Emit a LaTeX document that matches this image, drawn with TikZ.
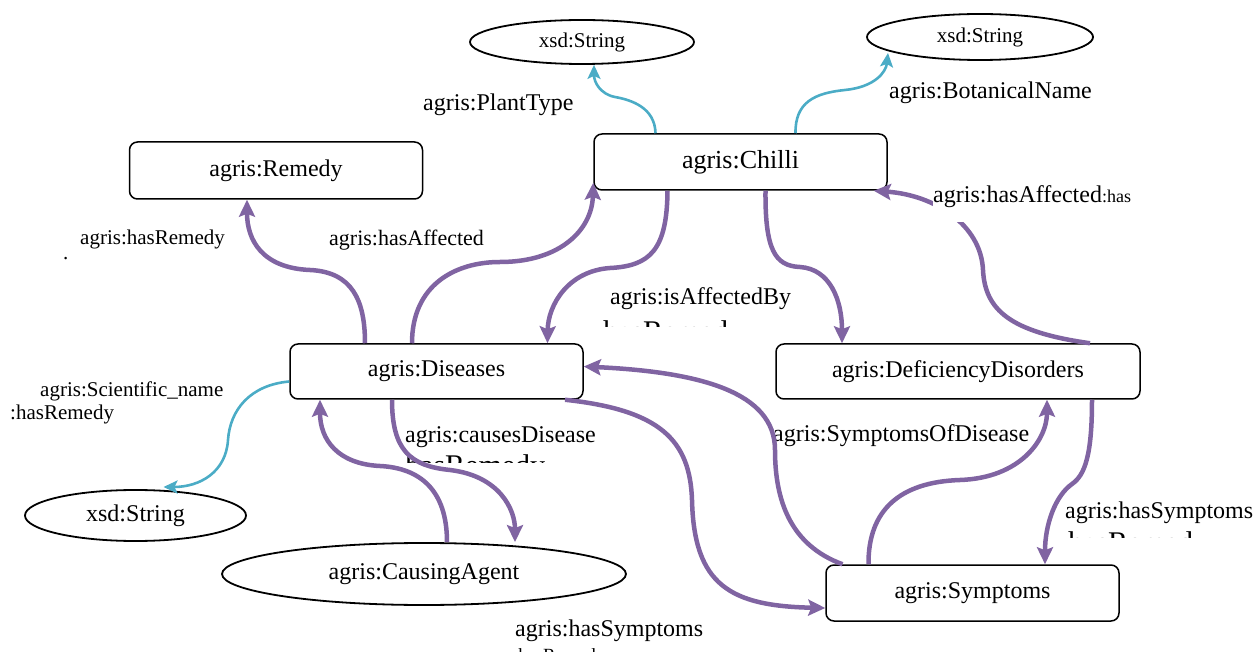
\documentclass[tikz,border=0pt]{standalone}
\usepackage{fontspec}
\setmainfont{Liberation Serif}
\usetikzlibrary{arrows.meta,shapes.geometric}
\definecolor{edgepurple}{HTML}{8064A2}
\definecolor{edgeteal}{HTML}{4BACC6}
\newcommand\myfs[1]{\fontsize{#1}{#1}\selectfont}
\begin{document}
\begin{tikzpicture}[x=1pt,y=-1pt,
  rbox/.style={draw, rounded corners=8pt, line width=1.5pt, minimum width=293pt, minimum height=56pt, inner sep=0pt, font=\myfs{24}, fill=white},
  ell/.style={draw, ellipse, line width=1.8pt, inner sep=0pt, font=\myfs{24}},
  pedge/.style={draw=edgepurple, line width=4.5pt, -{Stealth[length=17pt,width=16pt,inset=3pt]}, edgepurple},
  tedge/.style={draw=edgeteal, line width=2.6pt, -{Stealth[length=14pt,width=13pt,inset=3pt]}, edgeteal},
  lbl/.style={anchor=base west, inner sep=0pt, font=\myfs{24}},
]
\useasboundingbox (0,0) rectangle (1259,652);

% nodes
\node[rbox, font=\myfs{26}] (chilli) at (740.5,162) {agris:Chilli};
\node[rbox, minimum height=57pt] (remedy) at (276,170.5) {agris:Remedy};
\node[rbox, minimum height=55pt] (dis) at (436.5,371.5) {agris:Diseases};
\node[rbox, minimum width=364pt, minimum height=55pt] (def) at (958,371.5) {agris:DeficiencyDisorders};
\node[rbox] (sym) at (972.5,593) {agris:Symptoms};
\node[ell, font=\myfs{21}, minimum width=224pt, minimum height=44pt] (xs1) at (582,42) {xsd:String};
\node[ell, font=\myfs{21}, minimum width=226pt, minimum height=46pt] (xs2) at (980,37) {xsd:String};
\node[ell, minimum width=221pt, minimum height=51pt] (xs3) at (135.5,515.5) {xsd:String};
\node[ell, minimum width=404pt, minimum height=62pt] (ca) at (424,574) {agris:CausingAgent};

% labels
\node[lbl] (lPlant) at (423,111) {agris:PlantType};
\node[lbl] (lBot) at (889,99) {agris:BotanicalName};
\node[lbl, font=\myfs{21}] (lRem) at (80,245) {agris:hasRemedy};
\node[lbl, font=\myfs{21}] (lDot) at (63,260) {.};
\node[lbl, font=\myfs{22}] (lAff) at (329,246) {agris:hasAffected};
\node[lbl] (lIsAff) at (610,305) {agris:isAffectedBy};
\node[lbl, font=\myfs{21}] (lSci) at (40,396) {agris:Scientific\_name};
\node[lbl, font=\myfs{21}] (lSciR) at (10,420) {:hasRemedy};
\node[lbl] (lCause) at (405,442) {agris:causesDisease};
\node[lbl] (lSoD) at (773,441) {agris:SymptomsOfDisease};
\node[lbl] (lHasS1) at (1065,518) {agris:hasSymptoms};
\node[lbl] (lHasS2) at (515,636) {agris:hasSymptoms};

% clipped fragments
\begin{scope}
  \clip (590,312) rectangle (760,327);
  \node[lbl, font=\myfs{30}] (f1) at (603,342) {hasRemedy};
\end{scope}
\begin{scope}
  \clip (400,446) rectangle (560,462);
  \node[lbl, font=\myfs{30}] (f2) at (405,475) {hasRemedy};
\end{scope}
\begin{scope}
  \clip (1060,522) rectangle (1235,537);
  \node[lbl, font=\myfs{30}] (f3) at (1068,552) {hasRemedy};
\end{scope}
\begin{scope}
  \clip (505,640) rectangle (620,652);
  \node[lbl, font=\myfs{18.6}] (f4) at (513,661) {:hasRemedy};
\end{scope}

% purple edges
\draw[pedge] ([xshift=-71.5pt]dis.north) .. controls (365,300) and (352,272) .. (310,270) .. controls (262,268) and (247,240) .. ([xshift=-29pt]remedy.south);
\draw[pedge] ([xshift=-24.5pt]dis.north) .. controls (412,285) and (455,262) .. (500,262) .. controls (560,262) and (592,230) .. ([yshift=8pt]chilli.south west);
\draw[pedge] ([xshift=-73pt]chilli.south) .. controls (667,250) and (650,266) .. (610,268) .. controls (568,271) and (548,305) .. ([xshift=111pt]dis.north);
\draw[pedge] ([xshift=25pt]chilli.south) .. controls (765,250) and (775,266) .. (800,267) .. controls (830,269) and (842,300) .. ([xshift=-116pt]def.north);
\draw[pedge] ([xshift=132pt]def.north) .. controls (1010,332) and (985,310) .. (983,270) .. controls (981,225) and (935,195) .. ([xshift=-14pt]chilli.south east);
\draw[pedge] ([xshift=-44.5pt]dis.south) .. controls (392,450) and (410,466) .. (450,470) .. controls (500,476) and (515,510) .. ([xshift=91pt]ca.north);
\draw[pedge] ([xshift=23pt]ca.north) .. controls (447,490) and (420,468) .. (380,466) .. controls (338,464) and (320,440) .. ([xshift=-116.5pt]dis.south);
\draw[pedge] ([xshift=128.5pt]dis.south) .. controls (660,410) and (690,440) .. (692,500) .. controls (694,585) and (730,606) .. ([yshift=-15pt]sym.west);
\draw[pedge] ([xshift=-130pt]sym.north) .. controls (790,545) and (775,500) .. (775,450) .. controls (775,392) and (700,372) .. ([yshift=5pt]dis.east);
\draw[pedge] ([xshift=-104pt]sym.north) .. controls (868,510) and (900,482) .. (960,480) .. controls (1020,478) and (1047,440) .. ([xshift=89pt]def.south);
\draw[pedge] ([xshift=134pt]def.south) .. controls (1092,455) and (1085,475) .. (1072,484) .. controls (1055,496) and (1045,525) .. ([xshift=72.5pt]sym.north);

% teal edges
\draw[tedge] ([xshift=-85pt]chilli.north) .. controls (655,108) and (632,100) .. (615,97) .. controls (600,94) and (594,82) .. ([xshift=12pt]xs1.south);
\draw[tedge] ([xshift=55pt]chilli.north) .. controls (795,102) and (815,93) .. (845,90) .. controls (875,87) and (886,72) .. ([xshift=-92pt,yshift=-16pt]xs2.center);
\draw[tedge] ([yshift=-10pt]dis.west) .. controls (250,385) and (230,410) .. (228,440) .. controls (226,472) and (200,487) .. ([xshift=28pt,yshift=28.5pt]xs3.center);

% label over the hasAffected edge
\node[lbl, fill=white, inner ysep=14pt] (lAffHas) at (933,203) {agris:hasAffected{\myfs{18}:has}};
\end{tikzpicture}
\end{document}
